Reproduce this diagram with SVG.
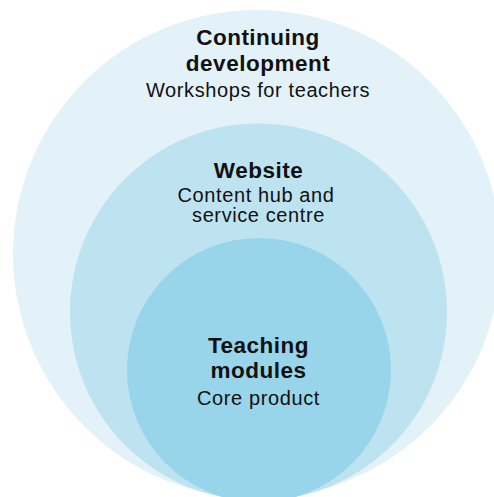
<svg xmlns="http://www.w3.org/2000/svg" width="494" height="497" viewBox="0 0 494 497">
<style>
.t{font-family:"Liberation Sans",Arial,sans-serif;fill:#111;text-anchor:middle}
.b{font-weight:bold;font-size:22.5px;letter-spacing:0.5px}
.r{font-size:20px;letter-spacing:0.6px}
</style>
<rect width="494" height="497" fill="#fff"/>
<g id="continuing-development">
<circle cx="257" cy="254" r="244" fill="#e2f2f8"/>
<text class="t b" x="258" y="45">Continuing</text>
<text class="t b" x="258" y="71">development</text>
<text class="t r" x="258" y="97">Workshops for teachers</text>
</g>
<g id="website">
<circle cx="258.5" cy="312" r="188.5" fill="#bde3f0"/>
<text class="t b" x="258.5" y="178">Website</text>
<text class="t r" x="256" y="202">Content hub and</text>
<text class="t r" x="258.5" y="222">service centre</text>
</g>
<g id="teaching-modules">
<circle cx="259" cy="370" r="132" fill="#98d4ea"/>
<text class="t b" x="258.5" y="353">Teaching</text>
<text class="t b" x="258.5" y="378">modules</text>
<text class="t r" x="258.5" y="405">Core product</text>
</g>
<g id="connectors"></g>
</svg>
